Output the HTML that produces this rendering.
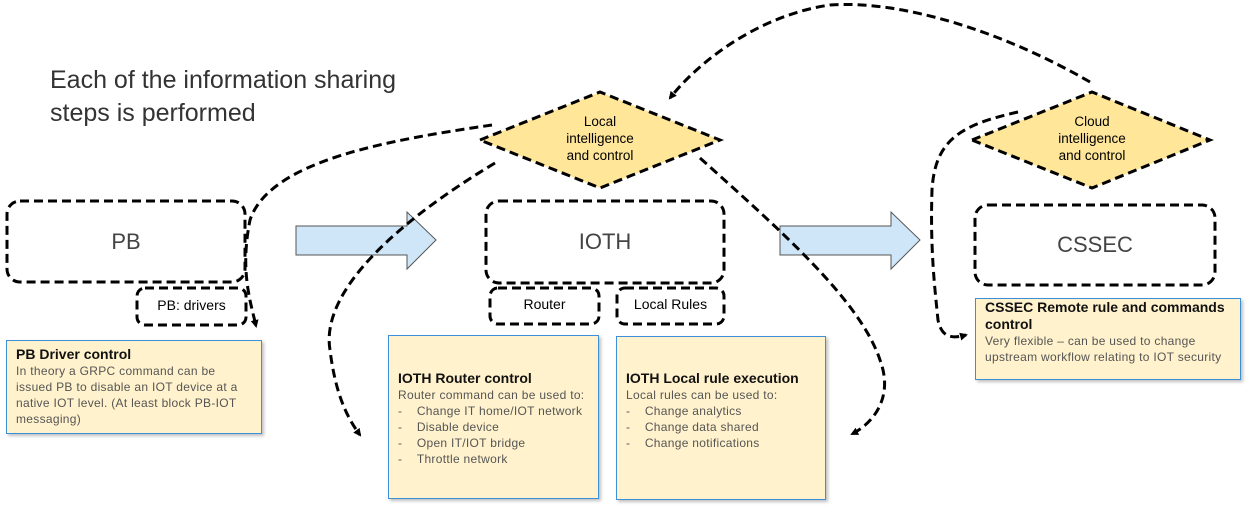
<!DOCTYPE html>
<html><head><meta charset="utf-8"><style>
body{margin:0;width:1246px;height:508px;background:#fff;overflow:hidden;font-family:"Liberation Sans",sans-serif;}
svg{position:absolute;left:0;top:0}
.t{position:absolute;font-family:"Liberation Sans",sans-serif;}
.note{position:absolute;background:#fff2cc;border:1.5px solid #3d8fd9;box-shadow:2px 2px 3px rgba(0,0,0,.25);box-sizing:border-box;padding:4px 9px;color:#555;font-size:12px;line-height:16px;font-family:"Liberation Sans",sans-serif;letter-spacing:0.3px;}
.note b{display:block;color:#111;font-size:14px;line-height:17px;letter-spacing:0;}
</style></head><body>
<svg width="1246" height="508" viewBox="0 0 1246 508">
<defs><marker id="a" markerWidth="8" markerHeight="8" refX="6" refY="4" orient="auto" markerUnits="userSpaceOnUse"><path d="M0,0 L8,4 L0,8 z" fill="#000"/></marker></defs>
<g fill="none" stroke="#000" stroke-width="3" stroke-dasharray="9,5">
<rect x="7" y="201" width="238" height="81" rx="13"/>
<rect x="486" y="201" width="238" height="82" rx="13"/>
<rect x="975" y="205" width="240" height="80" rx="13"/>
<rect x="137" y="288" width="109" height="37" rx="8"/>
<rect x="490" y="288" width="109" height="36" rx="8"/>
<rect x="617" y="288" width="107" height="36" rx="8"/>
</g>
<polygon points="480,140 600,92 720,140 600,188" fill="#ffe699" stroke="#000" stroke-width="3" stroke-dasharray="9,5"/>
<polygon points="972,140 1092,92 1210,140 1092,188" fill="#ffe699" stroke="#000" stroke-width="3" stroke-dasharray="9,5"/>
<path d="M296,226 H407 V212 L436,240 L407,269 V255 H296 Z" fill="#cfe6f8" stroke="#555" stroke-width="1"/>
<path d="M780,226 H891 V212 L920,240 L891,269 V255 H780 Z" fill="#cfe6f8" stroke="#555" stroke-width="1"/>
<g fill="none" stroke="#000" stroke-width="3" stroke-dasharray="9,5">
<path d="M492,125 C390,140 270,160 250,220 C240,270 250,300 256,326" marker-end="url(#a)"/>
<path d="M495,163 C400,220 320,290 330,350 C335,390 345,415 360,435" marker-end="url(#a)"/>
<path d="M700,158 C780,230 860,300 880,360 C895,400 870,425 852,434" marker-end="url(#a)"/>
<path d="M1090,82 C1000,30 900,0 830,5 C760,15 700,60 670,98" marker-end="url(#a)"/>
<path d="M1018,112 C960,125 935,140 932,190 C930,250 935,290 938,320 C942,340 955,338 966,335" marker-end="url(#a)"/>
</g>
</svg>
<div class="t" style="left:50px;top:64px;font-size:25px;line-height:33px;color:#333;">Each of the information sharing<br>steps is performed</div>
<div class="t" style="left:7px;top:229px;width:238px;text-align:center;font-size:22px;color:#444">PB</div>
<div class="t" style="left:486px;top:229px;width:238px;text-align:center;font-size:22px;color:#444">IOTH</div>
<div class="t" style="left:975px;top:232px;width:240px;text-align:center;font-size:22px;color:#444">CSSEC</div>
<div class="t" style="left:137px;top:297px;width:109px;text-align:center;font-size:14px;color:#000">PB: drivers</div>
<div class="t" style="left:490px;top:296px;width:109px;text-align:center;font-size:14px;color:#000">Router</div>
<div class="t" style="left:617px;top:296px;width:107px;text-align:center;font-size:14px;color:#000">Local Rules</div>
<div class="t" style="left:540px;top:113px;width:120px;text-align:center;font-size:13.5px;line-height:17px;color:#000">Local<br>intelligence<br>and control</div>
<div class="t" style="left:1032px;top:113px;width:120px;text-align:center;font-size:13.5px;line-height:17px;color:#000">Cloud<br>intelligence<br>and control</div>
<div class="note" style="left:6px;top:340px;width:256px;height:94px;padding-top:5px"><b>PB Driver control</b>In theory a GRPC command can be issued PB to disable an IOT device at a native IOT level. (At least block PB-IOT messaging)</div>
<div class="note" style="left:388px;top:335px;width:211px;height:164px;padding-top:34px"><b>IOTH Router control</b>Router command can be used to:<br>-&nbsp;&nbsp;&nbsp;&nbsp;Change IT home/IOT network<br>-&nbsp;&nbsp;&nbsp;&nbsp;Disable device<br>-&nbsp;&nbsp;&nbsp;&nbsp;Open IT/IOT bridge<br>-&nbsp;&nbsp;&nbsp;&nbsp;Throttle network</div>
<div class="note" style="left:616px;top:336px;width:210px;height:164px;padding-top:33px"><b>IOTH Local rule execution</b>Local rules can be used to:<br>-&nbsp;&nbsp;&nbsp;&nbsp;Change analytics<br>-&nbsp;&nbsp;&nbsp;&nbsp;Change data shared<br>-&nbsp;&nbsp;&nbsp;&nbsp;Change notifications</div>
<div class="note" style="left:975px;top:298px;width:266px;height:82px;padding-top:0px"><b>CSSEC Remote rule and commands control</b>Very flexible – can be used to change<br>upstream workflow relating to IOT security</div>
</body></html>
